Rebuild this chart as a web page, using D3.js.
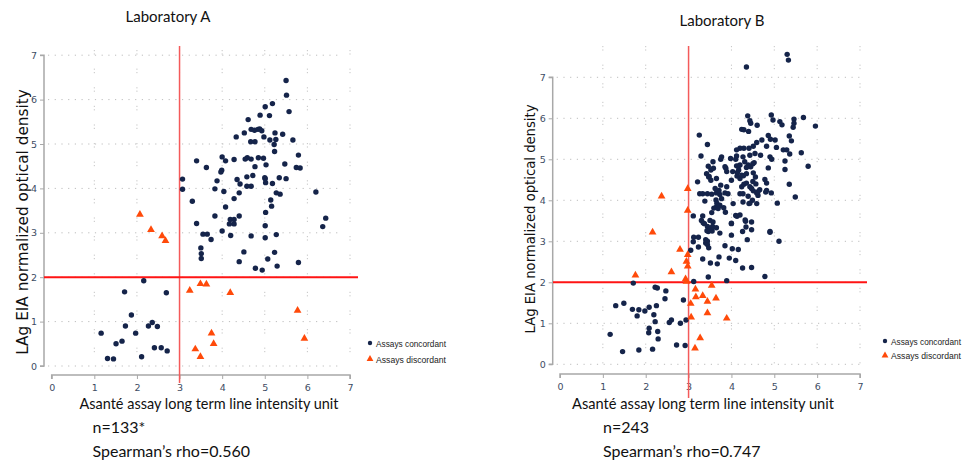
<!DOCTYPE html>
<html><head><meta charset="utf-8">
<script src="https://cdn.jsdelivr.net/npm/d3@7"></script>
<style>body{margin:0;background:#fff}svg{display:block}</style>
</head><body>
<svg id="c" width="972" height="467"></svg>
<script>
// ---------- DATA ----------
const xTicks = [0,1,2,3,4,5,6,7];
const yTicks = [0,1,2,3,4,5,6,7];
const cutX = 3, cutY = 2;
const panelTitles = ["Laboratory A","Laboratory B"];
const xTitle = "Asanté assay long term line intensity unit";
const yTitle = "LAg EIA normalized optical density";
const nLabels = ["n=133*","n=243"];
const rhoLabels = ["Spearman\u2019s rho=0.560","Spearman\u2019s rho=0.747"];
const legendLabels = ["Assays concordant","Assays discordant"];

const labAConcordant = [
 [5.50,6.43],[5.51,6.10],[5.57,5.73],[5.18,5.91],[5.01,5.84],[4.89,5.65],[5.11,5.64],[4.61,5.55],[4.33,5.16],[4.52,5.25],
 [4.68,5.33],[4.76,5.31],[4.84,5.33],[4.93,5.30],[4.98,5.16],[4.67,5.05],[4.77,5.05],[5.24,5.25],[5.12,5.09],[5.26,5.10],
 [5.22,4.99],[5.42,5.22],[5.66,5.09],[5.23,4.83],[5.79,4.75],[5.74,4.47],[5.83,4.46],[5.47,4.55],[4.59,4.69],[4.54,4.66],
 [4.68,4.66],[4.85,4.69],[4.97,4.68],[5.03,4.53],[4.77,4.49],[4.58,4.26],[4.72,4.29],[4.58,4.05],[4.68,4.05],[5.01,4.22],
 [5.02,4.13],[5.18,4.11],[5.34,4.24],[5.50,4.22],[5.27,3.90],[5.36,3.87],[5.14,3.74],[5.16,3.60],[5.02,3.46],[5.01,3.16],
 [5.27,2.96],[5.01,2.89],[4.68,2.93],[6.20,3.92],[6.43,3.33],[6.36,3.14],[3.40,4.62],[3.63,4.47],[4.00,4.71],[4.08,4.62],
 [4.28,4.65],[3.99,4.41],[3.97,4.37],[3.88,4.17],[4.35,4.20],[4.42,4.10],[4.40,3.90],[3.83,3.99],[4.04,3.93],[4.28,3.77],
 [4.08,3.58],[3.83,3.38],[4.19,3.30],[4.28,3.30],[4.40,3.38],[4.17,3.20],[4.28,3.20],[4.00,3.04],[4.20,2.94],[3.40,3.21],
 [3.30,3.71],[3.07,4.21],[3.07,3.98],[3.55,2.97],[3.65,2.97],[3.74,2.85],[3.50,2.66],[3.51,2.53],[3.51,2.42],[4.40,2.35],
 [4.51,2.57],[4.78,2.20],[4.94,2.16],[5.07,2.41],[5.23,2.56],[5.29,2.25],[5.79,2.33],[4.88,5.34],[5.00,4.24],
 [2.16,1.92],[1.71,1.67],[2.69,1.65],[1.87,1.15],[1.73,0.90],[1.16,0.74],[1.97,0.74],[2.27,0.90],[2.36,0.98],[2.48,0.89],
 [1.65,0.56],[1.51,0.50],[1.31,0.17],[1.45,0.16],[2.11,0.21],[2.41,0.41],[2.57,0.41],[2.71,0.34]
];
const labADiscordant = [
 [2.07,3.41],[2.33,3.07],[2.59,2.93],[2.67,2.82],[3.24,1.70],[3.49,1.85],[3.63,1.84],[4.19,1.65],
 [5.77,1.25],[5.93,0.62],[3.75,0.74],[3.80,0.50],[3.37,0.38],[3.49,0.21]
];
const labBConcordant = [
 [5.30,7.56],[5.33,7.42],[4.35,7.25],[4.38,6.06],[4.43,5.94],[4.45,5.88],[4.60,5.83],[4.24,5.73],[4.29,5.72],[4.40,5.68],
 [4.93,6.08],[4.97,5.96],[5.13,5.92],[5.18,5.84],[5.46,5.98],[5.46,5.88],[5.44,5.78],[5.68,6.02],[5.96,5.81],[5.35,5.57],
 [5.40,5.45],[4.86,5.58],[4.91,5.49],[5.02,5.47],[4.71,5.47],[4.59,5.41],
 [4.51,5.32],[4.82,5.32],[5.05,5.29],[5.21,5.23],[5.29,5.23],[4.20,5.27],[4.29,5.27],[4.41,5.27],[4.12,5.23],[5.63,5.16],
 [5.36,5.13],[3.25,5.59],[3.44,5.36],[3.29,5.08],[3.75,5.00],[3.57,4.94],[3.77,5.06],[3.98,5.02],[4.10,5.00],[4.12,5.08],
 [4.27,5.06],[4.43,5.10],[4.55,5.14],[4.68,5.10],[4.90,5.06],[4.94,5.00],[5.25,4.96],[5.79,4.83],[5.25,4.75],[4.86,4.79],
 [4.31,4.94],[4.39,4.86],[4.35,4.80],[4.45,4.82],[4.16,4.83],[4.17,4.74],[3.87,4.78],[3.85,4.82],[3.52,4.74],[3.46,4.83],
 [3.21,4.45],[3.42,4.65],[3.47,4.57],[3.52,4.49],[3.65,4.53],[3.75,4.37],[3.89,4.33],[4.00,4.49],[4.13,4.59],[4.20,4.53],
 [4.24,4.61],[4.35,4.65],[4.51,4.67],[4.56,4.57],[4.24,4.33],[4.29,4.39],[4.35,4.42],[4.43,4.33],[4.47,4.29],[4.78,4.51],
 [4.82,4.42],[5.35,4.39],
 [4.20,4.16],[4.27,4.16],[4.51,4.23],[4.59,4.18],[4.62,4.12],[4.66,4.26],[4.80,4.20],[4.93,4.18],[5.49,4.08],[5.07,3.93],
 [3.26,4.16],[3.33,4.16],[3.44,4.16],[3.54,4.15],[3.65,4.18],[3.73,4.14],[3.85,4.18],[3.92,4.16],[3.71,4.24],[3.62,4.29],
 [3.38,3.98],[3.77,4.04],[4.04,3.92],[4.27,3.96],[4.41,3.92],[4.49,4.00],[4.59,3.92],[4.39,4.10],
 [3.73,3.88],[3.65,3.84],[3.59,3.81],[3.69,3.80],[3.82,3.82],[3.86,3.71],[3.54,3.70],[3.11,3.62],[3.33,3.62],[3.30,3.51],
 [3.50,3.51],[3.57,3.47],[3.37,3.43],[3.44,3.36],[3.65,3.33],[3.55,3.25],[3.43,3.26],[4.10,3.63],[4.13,3.61],[4.00,3.43],
 [4.33,3.49],[4.47,3.47],[4.34,3.35],[4.90,3.22],[3.12,3.10],
 [3.11,2.99],[3.23,3.10],[3.40,3.04],[3.40,2.96],[3.44,3.00],[3.44,2.92],[3.47,2.84],[3.23,2.86],[3.33,2.57],[3.05,2.78],
 [3.51,2.47],[3.67,2.45],[3.71,2.62],[3.85,2.89],[4.00,3.15],[3.95,2.59],[4.10,2.53],[4.02,2.82],[4.16,2.80],[4.26,2.35],
 [4.47,2.36],[4.37,3.04],[4.26,3.24],[4.47,3.28],[4.90,3.24],[5.11,3.00],[4.78,2.14],[3.46,2.13],[3.89,2.04],[3.12,2.02],
 [3.46,3.24],[3.51,3.28],[3.73,3.20],
 [4.12,4.84],[4.20,4.86],[4.50,4.89],[4.53,4.92],[3.48,4.58],[3.58,4.78],[3.89,4.70],[4.03,4.70],[4.14,4.68],[4.28,4.60],
 [4.50,4.46],[4.57,4.40],[4.62,4.21],[4.82,4.24],[3.64,4.01],[3.66,3.93],[3.72,3.87],[4.43,3.93],[3.34,3.45],[3.56,3.36],
 [4.00,3.44],[4.20,3.64],[4.32,3.52],
 [1.71,1.98],[2.22,1.88],[2.27,1.86],[2.47,1.79],[2.45,1.60],[2.88,1.57],[1.30,1.43],[1.49,1.49],[1.69,1.34],[1.84,1.33],
 [1.98,1.30],[2.08,1.39],[1.80,1.18],[2.19,1.21],[2.25,1.43],[2.22,1.04],[2.55,1.02],[2.60,1.08],[2.81,1.00],[2.94,1.08],
 [2.08,0.88],[2.07,0.77],[2.28,0.80],[2.29,0.62],[1.17,0.73],[2.72,0.47],[2.92,0.46],[1.84,0.35],[1.46,0.31],[2.16,0.37]
];
const labBDiscordant = [
 [2.37,4.10],[2.98,4.28],[2.98,3.75],[2.16,3.22],[2.80,2.80],[2.98,2.67],[2.95,2.51],[2.98,2.39],[2.60,2.25],[1.76,2.17],
 [2.93,2.08],[2.95,2.02],[3.16,1.83],[3.54,1.92],[3.17,1.64],[3.33,1.67],[3.44,1.53],[3.64,1.61],[3.05,1.48],[3.44,1.25],
 [3.06,1.15],[3.89,1.12],[3.27,0.64],[3.15,0.39]
];

// ---------- LAYOUT ----------
const DARK = "#15244a", ORANGE = "#ff4a0a", RED = "#ff1414", VRED = "#f45a5a";
const svg = d3.select("#c");

const panels = [
 {conc: labAConcordant, disc: labADiscordant, xr:[51.7,350], yr:[366,55.2], axX:44, axY:375,
  vTop:46, vBot:383, hL:44, hR:358, gridTop:50, gridRight:338,
  title:{x:168,y:22}, ytitle:{x:27.5,y:222,size:15.3}, xt:{x:79.5,y:409,len:259}, nx:92.5,
  leg:{x:370,y:343,dy:16}},
 {conc: labBConcordant, disc: labBDiscordant, xr:[560,860], yr:[364.3,77.3], axX:552.7, axY:374,
  vTop:46, vBot:398, hL:553, hR:867, gridTop:46, gridRight:862,
  title:{x:722,y:26}, ytitle:{x:535,y:219,size:13.2}, xt:{x:572,y:409,len:262}, nx:603,
  leg:{x:885,y:341,dy:14.5}}
];

panels.forEach((p,i)=>{
  const x = d3.scaleLinear().domain([0,7]).range(p.xr);
  const y = d3.scaleLinear().domain([0,7]).range(p.yr);
  const g = svg.append("g");

  // dotted grid
  g.selectAll(".hg").data(yTicks).join("line")
    .attr("x1",p.axX+4).attr("x2",p.gridRight).attr("y1",d=>y(d)).attr("y2",d=>y(d))
    .attr("stroke","#bdbdbd").attr("stroke-width",1).attr("stroke-dasharray","1.2,5.5");
  g.selectAll(".vg").data(xTicks.filter(d=>d>0)).join("line")
    .attr("x1",d=>x(d)).attr("x2",d=>x(d)).attr("y1",p.gridTop).attr("y2",y(0))
    .attr("stroke","#c4c4c4").attr("stroke-width",1).attr("stroke-dasharray","1.2,2.2,1.2,14");

  // axes
  const ya = d3.axisLeft(y).tickValues(yTicks).tickSize(4).tickPadding(3).tickFormat(d3.format("d"));
  const yg = g.append("g").attr("transform",`translate(${p.axX},0)`).call(ya);
  const xa = d3.axisBottom(x).tickValues(xTicks).tickSize(4).tickPadding(5).tickFormat(d3.format("d"));
  const xg = g.append("g").attr("transform",`translate(0,${p.axY})`).call(xa);
  [yg,xg].forEach(a=>{
    a.select(".domain").attr("stroke","#a8a8a8").attr("stroke-width",1.5);
    a.selectAll(".tick line").attr("stroke","#a8a8a8");
    a.selectAll(".tick text").attr("fill","#3d4c63").style("font-family","DejaVu Sans, Verdana, sans-serif").style("font-size","9.5px");
  });
  yg.select(".domain").attr("d",`M-4,${y(7)}H0V${y(0)}H-4`);
  xg.select(".domain").attr("d",`M${x(0)},4V0H${x(7)}V4`);

  // cut-off reference lines
  g.append("line").attr("x1",x(cutX)).attr("x2",x(cutX)).attr("y1",p.vTop).attr("y2",p.vBot)
    .attr("stroke",VRED).attr("stroke-width",1.5);
  g.append("line").attr("x1",p.hL).attr("x2",p.hR).attr("y1",y(cutY)).attr("y2",y(cutY))
    .attr("stroke",RED).attr("stroke-width",2);

  // points
  g.selectAll(".c").data(p.conc).join("circle")
    .attr("cx",d=>x(d[0])).attr("cy",d=>y(d[1])).attr("r",2.7).attr("fill",DARK);
  const tri = d3.symbol(d3.symbolTriangle).size(26);
  g.selectAll(".d").data(p.disc).join("path")
    .attr("d",tri).attr("transform",d=>`translate(${x(d[0])},${y(d[1])})`).attr("fill",ORANGE);

  // legend
  g.append("circle").attr("cx",p.leg.x).attr("cy",p.leg.y).attr("r",2.2).attr("fill",DARK);
  g.append("path").attr("d",d3.symbol(d3.symbolTriangle).size(20))
    .attr("transform",`translate(${p.leg.x},${p.leg.y+p.leg.dy})`).attr("fill",ORANGE);
  legendLabels.forEach((t,k)=>{
    g.append("text").attr("x",p.leg.x+6).attr("y",p.leg.y+k*p.leg.dy+3.5)
      .attr("textLength",70).attr("lengthAdjust","spacingAndGlyphs")
      .style("font-family","Liberation Sans, Arial, sans-serif").style("font-size","9px").attr("fill","#222").text(t);
  });

  // titles
  g.append("text").attr("x",p.title.x).attr("y",p.title.y).attr("text-anchor","middle")
    .style("font-family","Lato, sans-serif").style("font-size","15px").attr("fill","#111").text(panelTitles[i]);
  g.append("text").attr("transform",`translate(${p.ytitle.x},${p.ytitle.y}) rotate(-90)`).attr("text-anchor","middle")
    .style("font-family","DejaVu Sans, Verdana, sans-serif").style("font-size",p.ytitle.size+"px").attr("fill","#111").text(yTitle);
  g.append("text").attr("x",p.xt.x).attr("y",p.xt.y).attr("textLength",p.xt.len).attr("lengthAdjust","spacingAndGlyphs")
    .style("font-family","Lato, sans-serif").style("font-size","16px").attr("fill","#111").text(xTitle);
  g.append("text").attr("x",p.nx).attr("y",p.xt.y+24)
    .style("font-family","Lato, sans-serif").style("font-size","16px").attr("fill","#111").text(nLabels[i]);
  g.append("text").attr("x",p.nx).attr("y",p.xt.y+48)
    .style("font-family","Lato, sans-serif").style("font-size","16px").attr("fill","#111").text(rhoLabels[i]);
});
</script>
</body></html>
